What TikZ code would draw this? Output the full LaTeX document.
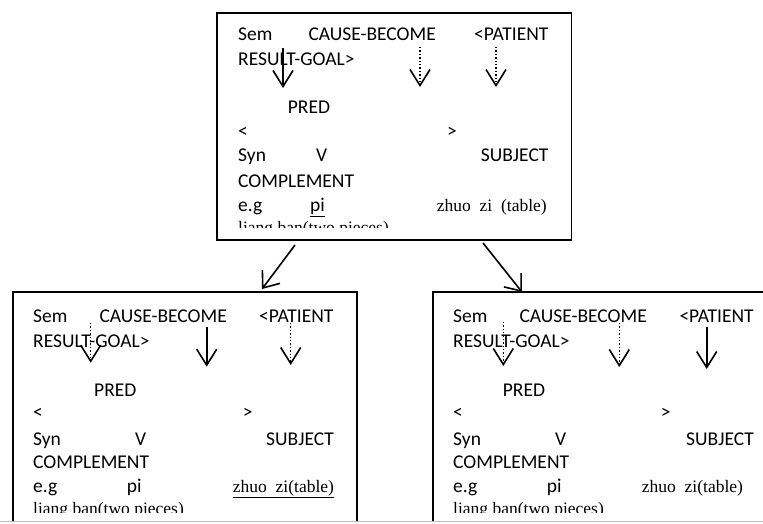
\documentclass[tikz,border=0pt]{standalone}
\usepackage{fontspec}
\setmainfont{Liberation Serif}
\newfontfamily\calib{Carlito}
\usetikzlibrary{arrows.meta}
\begin{document}
\begin{tikzpicture}[x=1pt,y=-1pt,
 sw/.style={anchor=base west,inner sep=0pt,font=\calib\fontsize{19.5}{22}\selectfont},
 rm/.style={anchor=base west,inner sep=0pt,font=\fontsize{17.5}{20}\selectfont},
 frame/.style={line width=1.6pt},
 solidarr/.style={line width=1.6pt,-{Straight Barb[length=16pt,width=20pt,line width=1.6pt]}},
 dotarr/.style={line width=1.4pt,dash pattern=on 1.4pt off 2pt,-{Straight Barb[length=16pt,width=20pt,line width=1.6pt]}},
 link/.style={line width=1.6pt,-{Straight Barb[length=14pt,width=22pt,line width=1.6pt]}}
]
\useasboundingbox (0,0) rectangle (763,523);
\clip (0,0) rectangle (763,523);
\fill[white] (0,0) rectangle (763,523);

% ---------- top box ----------
\node[draw,frame,minimum width=354.5pt,minimum height=227pt,inner sep=0pt,anchor=north west] (top) at (216,12) {};
\node[sw] (t1) at (238,40) {Sem};
\node[sw] (t2) at (308.3,40) {CAUSE-BECOME};
\node[sw] (t3) at (474,40) {<PATIENT};
\node[sw] (t4) at (238,65) {RESULT-GOAL>};
\node[sw] (t5) at (287.7,113) {PRED};
\node[sw] (t6) at (238,137) {<};
\node[sw] (t7) at (447,137) {>};
\node[sw] (t8) at (238,161.5) {Syn};
\node[sw] (t9) at (316,161.5) {V};
\node[sw] (t10) at (480.7,161.5) {SUBJECT};
\node[sw] (t11) at (238,187.3) {COMPLEMENT};
\node[sw] (t12) at (238,211.7) {e.g};
\node[sw] (t13) at (310,211.7) {\underline{pi}};
\node[rm] (t14) at (436.7,211.7) {zhuo\ \ zi\ \ (table)};
\begin{scope}
\clip (216,12) rectangle (570,227.5);
\node[rm] (t15) at (238,233) {liang ban(two pieces)};
\end{scope}
\coordinate (ta1) at (283,48);  \coordinate (tb1) at (283,88);
\coordinate (ta2) at (420,47);  \coordinate (tb2) at (420,87);
\coordinate (ta3) at (496,47);  \coordinate (tb3) at (496,87);
\draw[solidarr] (ta1) -- (tb1);
\draw[dotarr] (ta2) -- (tb2);
\draw[dotarr] (ta3) -- (tb3);

% ---------- bottom left box ----------
\draw[frame] (13,521) |- (356.7,291.7) -- (356.7,521);
\node[sw] (l1) at (33,322.3) {Sem};
\node[sw] (l2) at (99.3,322.3) {CAUSE-BECOME};
\node[sw] (l3) at (259,322.3) {<PATIENT};
\node[sw] (l4) at (33,347.3) {RESULT-GOAL>};
\node[sw] (l5) at (94,396.7) {PRED};
\node[sw] (l6) at (33,418) {<};
\node[sw] (l7) at (242.7,418) {>};
\node[sw] (l8) at (33,445) {Syn};
\node[sw] (l9) at (135,445) {V};
\node[sw] (l10) at (266,445) {SUBJECT};
\node[sw] (l11) at (33,468.3) {COMPLEMENT};
\node[sw] (l12) at (33,492.3) {e.g};
\node[sw] (l13) at (126.7,492.3) {pi};
\node[rm] (l14) at (232.7,492.3) {\underline{zhuo\ \ zi(table)}};
\begin{scope}
\clip (13,292) rectangle (357,512);
\node[rm] (l15) at (33,514.5) {liang ban(two pieces)};
\end{scope}
\coordinate (la1) at (90.7,323);  \coordinate (lb1) at (90.7,362.7);
\coordinate (la2) at (206.7,327); \coordinate (lb2) at (206.7,366.7);
\coordinate (la3) at (290.7,323); \coordinate (lb3) at (290.7,365);
\draw[dotarr] (la1) -- (lb1);
\draw[solidarr] (la2) -- (lb2);
\draw[dotarr] (la3) -- (lb3);

% ---------- bottom right box ----------
\draw[frame] (432.7,521) |- (780,291.7);
\node[sw] (r1) at (453,322.3) {Sem};
\node[sw] (r2) at (519.3,322.3) {CAUSE-BECOME};
\node[sw] (r3) at (679.3,322.3) {<PATIENT};
\node[sw] (r4) at (453,347.3) {RESULT-GOAL>};
\node[sw] (r5) at (502.7,396.7) {PRED};
\node[sw] (r6) at (453,418) {<};
\node[sw] (r7) at (660.7,418) {>};
\node[sw] (r8) at (453,445) {Syn};
\node[sw] (r9) at (555,445) {V};
\node[sw] (r10) at (686,445) {SUBJECT};
\node[sw] (r11) at (453,468.3) {COMPLEMENT};
\node[sw] (r12) at (453,492.3) {e.g};
\node[sw] (r13) at (546.7,492.3) {pi};
\node[rm] (r14) at (641.7,492.3) {zhuo\ \ zi(table)};
\begin{scope}
\clip (433,292) rectangle (763,512);
\node[rm] (r15) at (453,514.5) {liang ban(two pieces)};
\end{scope}
\coordinate (ra1) at (503.3,321.7); \coordinate (rb1) at (503.3,366);
\coordinate (ra2) at (619.3,323);   \coordinate (rb2) at (619.3,367);
\coordinate (ra3) at (706.7,327);   \coordinate (rb3) at (706.7,369);
\draw[dotarr] (ra1) -- (rb1);
\draw[dotarr] (ra2) -- (rb2);
\draw[solidarr] (ra3) -- (rb3);

% ---------- links between boxes ----------
\coordinate (s1) at (295,245); \coordinate (e1) at (262,289);
\coordinate (s2) at (483,243); \coordinate (e2) at (522,292);
\draw[link] (s1) -- (e1);
\draw[link] (s2) -- (e2);

% page edge
\draw[gray!50,line width=1pt] (0,521.5) -- (763,521.5);
\end{tikzpicture}
\end{document}
